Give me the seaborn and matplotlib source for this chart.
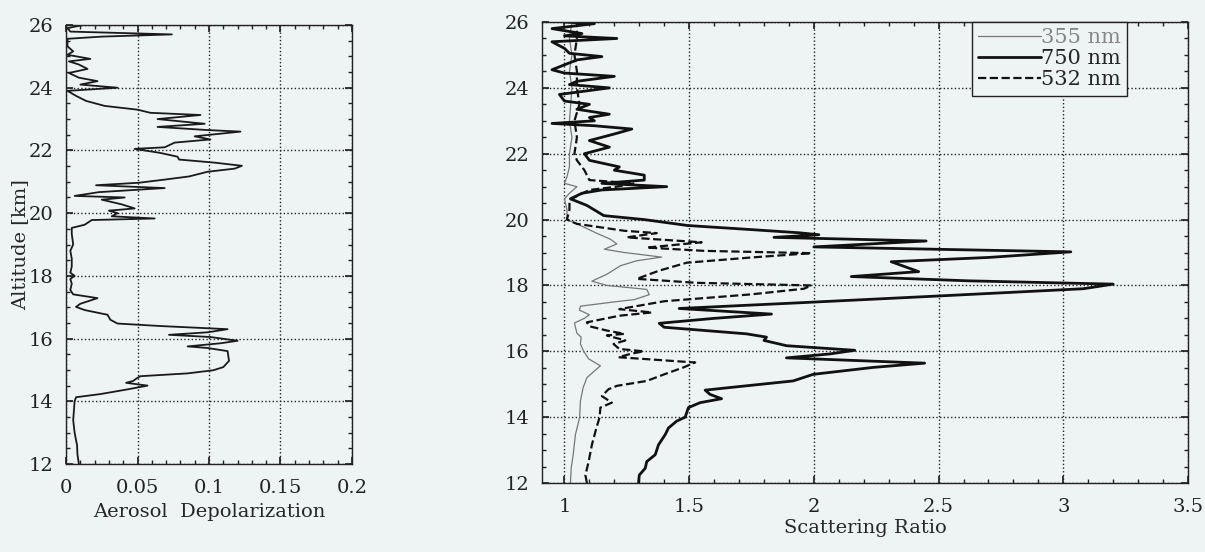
import seaborn as sns
from matplotlib import pyplot as plt
from matplotlib.ticker import MultipleLocator

# aerosol depolarization profile (left panel)
alt_dep = [12.0, 12.3, 12.6, 13.0, 13.4, 14.0, 14.13, 14.23, 14.38, 14.5, 14.59, 14.65, 14.72, 14.8,
           14.89, 14.99, 15.09, 15.29, 15.6, 15.7, 15.75, 15.85, 15.93, 16.05, 16.12, 16.2, 16.3, 16.4,
           16.48, 16.6, 16.76, 16.91, 17.01, 17.11, 17.29, 17.41, 17.55, 17.75, 17.9, 18.0, 18.1, 18.3,
           18.55, 18.8, 19.0, 19.34, 19.53, 19.63, 19.78, 19.83, 19.9, 20.0, 20.08, 20.15, 20.28, 20.43,
           20.5, 20.55, 20.67, 20.8, 20.89, 20.97, 21.07, 21.17, 21.32, 21.42, 21.51, 21.61, 21.71, 21.8,
           21.92, 22.05, 22.1, 22.25, 22.35, 22.45, 22.6, 22.65, 22.75, 22.85, 23.0, 23.13, 23.2, 23.3,
           23.42, 23.58, 23.74, 23.9, 24.0, 24.1, 24.21, 24.32, 24.47, 24.6, 24.74, 24.84, 24.92, 25.05,
           25.16, 25.32, 25.56, 25.63, 25.7, 25.79, 25.9, 26.0]
depol = [0.009, 0.008, 0.0077, 0.006, 0.005, 0.006, 0.007, 0.024, 0.043, 0.057, 0.042, 0.047, 0.049, 0.052,
         0.085, 0.103, 0.11, 0.114, 0.113, 0.099, 0.085, 0.108, 0.12, 0.101, 0.072, 0.099, 0.113, 0.066,
         0.036, 0.031, 0.029, 0.013, 0.007, 0.01, 0.022, 0.005, 0.003, 0.004, 0.003, 0.006, 0.003, 0.004,
         0.004, 0.003, 0.005, 0.004, 0.004, 0.013, 0.018, 0.062, 0.032, 0.036, 0.03, 0.048, 0.039, 0.025,
         0.041, 0.006, 0.023, 0.069, 0.021, 0.051, 0.069, 0.086, 0.099, 0.118, 0.123, 0.104, 0.079, 0.078,
         0.066, 0.048, 0.069, 0.076, 0.101, 0.09, 0.122, 0.099, 0.064, 0.097, 0.064, 0.094, 0.059, 0.05,
         0.027, 0.014, 0.007, 0.001, 0.036, 0.01, 0.022, 0.009, 0.002, 0.015, 0.009, 0.002, 0.017, 0.001,
         0.005, 0.001, 0.001, 0.025, 0.074, 0.003, 0.001, 0.012]

# scattering ratio profiles (right panel)
alt_355 = [12.0, 12.45, 12.86, 13.47, 14.0, 14.49, 14.9, 15.2, 15.4, 15.56, 15.77, 16.0, 16.22, 16.43,
           16.55, 16.73, 16.86, 17.0, 17.11, 17.25, 17.37, 17.5, 17.57, 17.72, 17.88, 18.0, 18.13, 18.34,
           18.6, 18.75, 18.86, 19.0, 19.1, 19.26, 19.4, 19.6, 19.82, 20.0, 20.3, 20.63, 20.8, 21.0, 21.1,
           21.3, 21.6, 22.0, 22.5, 23.0, 23.5, 24.0, 24.5, 25.0, 25.5, 26.0]
sr_355 = [1.024, 1.027, 1.035, 1.044, 1.061, 1.064, 1.075, 1.09, 1.12, 1.144, 1.097, 1.077, 1.064, 1.067,
          1.05, 1.044, 1.04, 1.08, 1.1, 1.06, 1.064, 1.2, 1.28, 1.34, 1.33, 1.17, 1.11, 1.17,
          1.225, 1.29, 1.39, 1.24, 1.16, 1.21, 1.185, 1.125, 1.064, 1.01, 1.01, 1.0, 1.02, 1.05, 1.0,
          1.01, 1.02, 1.02, 1.03, 1.02, 1.025, 1.03, 1.02, 1.03, 1.02, 1.03]

alt_750 = [12.0, 12.24, 12.45, 12.65, 12.86, 13.16, 13.47, 13.67, 13.88, 14.0, 14.29, 14.44, 14.56, 14.69,
           14.82, 14.9, 15.1, 15.3, 15.51, 15.64, 15.8, 15.92, 16.03, 16.17, 16.33, 16.43, 16.53, 16.73,
           16.85, 17.0, 17.13, 17.3, 17.48, 17.68, 17.9, 18.04, 18.14, 18.27, 18.42, 18.72, 18.85, 19.02,
           19.17, 19.35, 19.46, 19.54, 19.6, 19.71, 19.82, 20.0, 20.12, 20.43, 20.63, 20.8, 20.9, 21.0,
           21.1, 21.2, 21.35, 21.5, 21.6, 21.8, 22.0, 22.2, 22.4, 22.6, 22.75, 22.85, 22.92, 23.0, 23.1,
           23.2, 23.35, 23.5, 23.6, 23.8, 23.9, 24.0, 24.1, 24.2, 24.35, 24.45, 24.55, 24.7, 24.85, 24.95,
           25.05, 25.2, 25.4, 25.5, 25.58, 25.65, 25.8, 25.95, 26.0]
sr_750 = [1.297, 1.30, 1.324, 1.33, 1.364, 1.377, 1.404, 1.417, 1.45, 1.484, 1.497, 1.544, 1.63, 1.584,
          1.564, 1.664, 1.917, 1.997, 2.237, 2.444, 1.89, 2.064, 2.164, 1.89, 1.80, 1.81, 1.73, 1.40,
          1.38, 1.6, 1.83, 1.46, 1.96, 2.5, 3.08, 3.2, 2.62, 2.15, 2.42, 2.31, 2.7, 3.03,
          2.0, 2.45, 1.84, 2.02, 1.94, 1.72, 1.494, 1.32, 1.158, 1.09, 1.024, 1.07, 1.15, 1.41,
          1.15, 1.32, 1.32, 1.2, 1.22, 1.1, 1.08, 1.18, 1.1, 1.2, 1.27, 1.12, 0.95, 1.12, 1.1,
          1.18, 1.05, 1.1, 1.0, 0.98, 1.08, 1.18, 1.02, 1.05, 1.2, 1.0, 0.95, 1.0, 1.05, 1.15,
          1.02, 1.0, 0.95, 1.21, 1.0, 1.07, 0.95, 1.12, 1.0]

alt_532 = [12.0, 12.24, 12.65, 13.16, 13.67, 14.0, 14.29, 14.44, 14.64, 14.85, 14.95, 15.1, 15.3, 15.51,
           15.66, 15.82, 15.92, 16.0, 16.07, 16.22, 16.33, 16.48, 16.53, 16.63, 16.76, 16.88, 17.08, 17.18,
           17.28, 17.52, 17.73, 17.9, 18.0, 18.08, 18.2, 18.45, 18.69, 18.85, 18.98, 19.05, 19.15, 19.31,
           19.46, 19.59, 19.66, 19.87, 20.0, 20.3, 20.6, 20.9, 21.0, 21.1, 21.2, 21.5, 21.8, 22.0, 22.5,
           23.0, 23.5, 24.0, 24.5, 25.0, 25.5, 26.0]
sr_532 = [1.09, 1.084, 1.097, 1.11, 1.128, 1.141, 1.144, 1.19, 1.15, 1.177, 1.21, 1.33, 1.40, 1.477,
          1.524, 1.217, 1.264, 1.317, 1.22, 1.197, 1.244, 1.17, 1.24, 1.17, 1.10, 1.09, 1.22, 1.35,
          1.22, 1.40, 1.75, 1.96, 1.99, 1.53, 1.29, 1.38, 1.49, 1.75, 1.99, 1.56, 1.33, 1.55,
          1.25, 1.37, 1.24, 1.05, 1.01, 1.02, 1.02, 1.1, 1.21, 1.28, 1.1, 1.08, 1.05, 1.04, 1.05,
          1.04, 1.06, 1.05, 1.05, 1.04, 1.05, 1.05]

bg = '#eef3f4'
sns.set_theme(style="ticks")
plt.rcParams['font.family'] = ['DejaVu Serif']
plt.rcParams['xtick.direction'] = 'in'
plt.rcParams['ytick.direction'] = 'in'

fig = plt.figure(figsize=(12.05, 5.52), dpi=100, facecolor=bg)
ax1 = fig.add_axes([0.0548, 0.1594, 0.2373, 0.7953])
ax2 = fig.add_axes([0.4498, 0.125, 0.5361, 0.8351])


def style_axis(ax):
    ax.set_facecolor(bg)
    for s in ax.spines.values():
        s.set_color('#222222')
        s.set_linewidth(1.0)
    ax.grid(True, which='major', linestyle=':', color='#222222', linewidth=1.0)
    ax.tick_params(which='both', top=True, right=True, colors='#222222', labelsize=14)
    ax.tick_params(which='major', length=5)
    ax.tick_params(which='minor', length=3)
    ax.tick_params(axis='y', which='major', pad=9)
    ax.tick_params(axis='x', which='major', pad=11)
    ax.set_ylim(12, 26)
    ax.yaxis.set_major_locator(MultipleLocator(2))
    ax.yaxis.set_minor_locator(MultipleLocator(0.5))


sns.lineplot(x=depol, y=alt_dep, orient='y', sort=False, estimator=None,
             color='#1a1a1a', linewidth=1.3, ax=ax1)
style_axis(ax1)
ax1.set_xlim(0, 0.2)
ax1.xaxis.set_minor_locator(MultipleLocator(0.01))
ax1.set_xticks([0, 0.05, 0.1, 0.15, 0.2])
ax1.set_xticklabels(['0', '0.05', '0.1', '0.15', '0.2'])
ax1.set_xlabel('Aerosol  Depolarization', fontsize=14, labelpad=4)
ax1.set_ylabel('Altitude [km]', fontsize=14, labelpad=0)

sns.lineplot(x=sr_355, y=alt_355, orient='y', sort=False, estimator=None,
             color='#777777', linewidth=0.9, label='355 nm', ax=ax2)
sns.lineplot(x=sr_750, y=alt_750, orient='y', sort=False, estimator=None,
             color='#111111', linewidth=2.0, label='750 nm', ax=ax2)
sns.lineplot(x=sr_532, y=alt_532, orient='y', sort=False, estimator=None,
             color='#111111', linewidth=1.6, linestyle='--', label='532 nm', ax=ax2)
style_axis(ax2)
ax2.set_xlim(0.91, 3.5)
ax2.set_xticks([1, 1.5, 2, 2.5, 3, 3.5])
ax2.set_xticklabels(['1', '1.5', '2', '2.5', '3', '3.5'])
ax2.xaxis.set_minor_locator(MultipleLocator(0.1))
ax2.set_xlabel('Scattering Ratio', fontsize=14, labelpad=2)
ax2.set_ylabel('')

leg = ax2.legend(loc='upper right', bbox_to_anchor=(0.905, 1.0), fontsize=15, frameon=True,
                 fancybox=False, handlelength=3.0, handletextpad=0.0, borderpad=0.3,
                 labelspacing=0.1, borderaxespad=0.0)
leg.get_frame().set_edgecolor('#222222')
leg.get_frame().set_facecolor(bg)
leg.get_frame().set_alpha(1)
leg.get_frame().set_linewidth(1.0)
leg.get_texts()[0].set_color('#888888')

fig.savefig('out.png', dpi=100, facecolor=bg)
